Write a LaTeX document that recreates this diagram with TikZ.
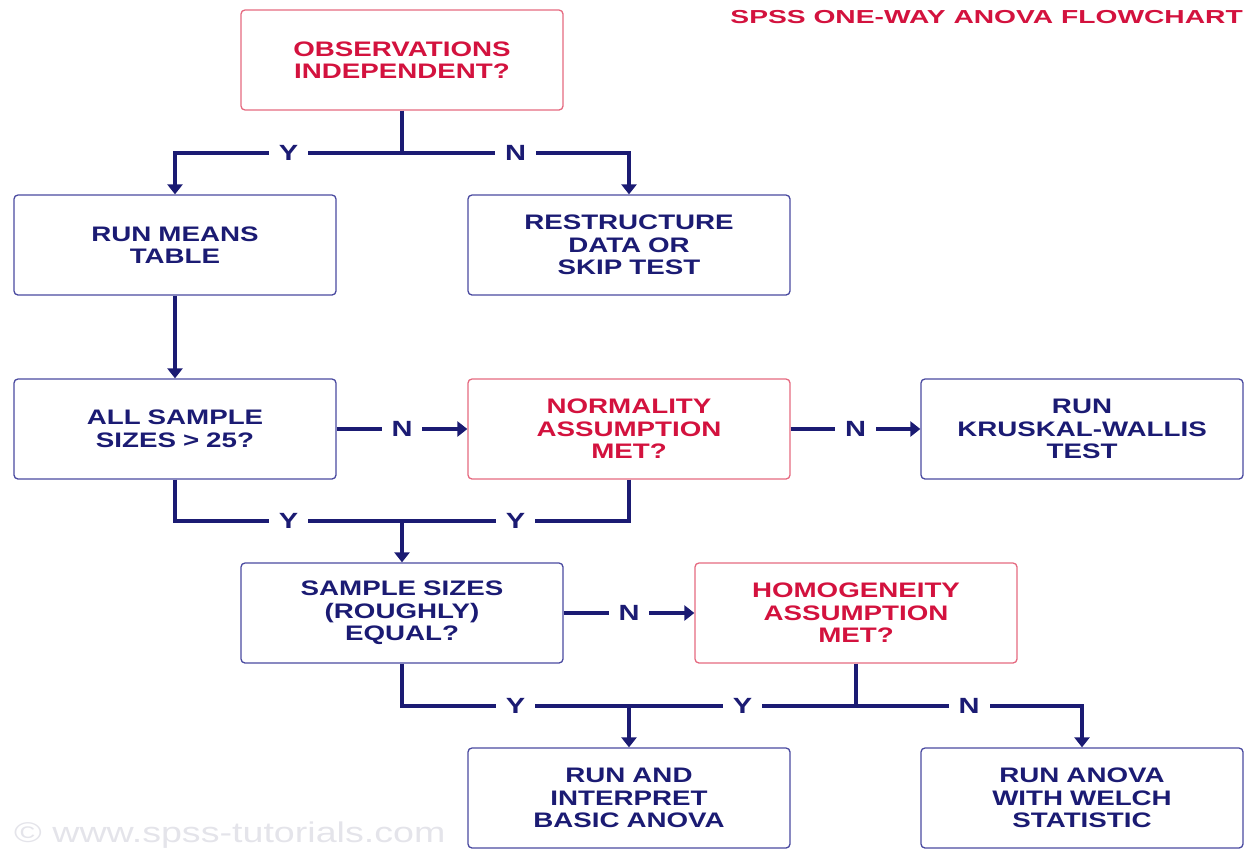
\documentclass[tikz,border=0pt]{standalone}
\usepackage{fontspec}
\setmainfont[FakeStretch=1.32]{Liberation Sans}
\newfontfamily\titlefont[FakeStretch=1.5]{Liberation Sans}
\usetikzlibrary{positioning}
\usetikzlibrary{arrows.meta}
\definecolor{flowblue}{HTML}{1B1B73}
\definecolor{boxblue}{HTML}{4A4AA0}
\definecolor{flowred}{HTML}{D3123E}
\definecolor{boxred}{HTML}{E56A80}
\definecolor{markgray}{HTML}{E4E4EA}

\begin{document}
\begin{tikzpicture}[x=1pt, y=-1pt,
		flowbox/.style={
			draw=boxblue,
			line width=1.3pt,
			rounded corners=4pt,
			minimum width=322pt,
			minimum height=100pt,
			text width=310pt,
			align=center,
			text=flowblue,
			font=\fontsize{21}{22.5}\selectfont\bfseries
		},
		askbox/.style={flowbox, draw=boxred, text=flowred},
		link/.style={draw=flowblue, line width=3.3pt},
		arr/.style={link, -{Triangle[length=10pt, width=15pt]}},
		lbl/.style={fill=white, text=flowblue, inner xsep=10pt, inner ysep=1pt,
			font=\fontsize{22}{22}\selectfont\bfseries}]
		\useasboundingbox (0,0) rectangle (1246,849);
		
		% watermark and title
		\node[anchor=base west, text=markgray, font=\fontsize{28.5}{28.5}\selectfont, inner sep=0] (mark) at (14,842) {\textcopyright\ www.spss-tutorials.com};
		\node[anchor=base east, text=flowred, font=\fontsize{18.8}{18.8}\titlefont\bfseries, inner sep=0] (title) at (1243,23) {SPSS ONE-WAY ANOVA FLOWCHART};
		
		% boxes
		\node[askbox] (obs) at (402,60) {OBSERVATIONS\\INDEPENDENT?};
		\node[flowbox] (means) at (175,245) {RUN MEANS\\TABLE};
		\node[flowbox] (restr) at (629,245) {RESTRUCTURE\\DATA OR\\SKIP TEST};
		\node[flowbox] (all) at (175,429) {ALL SAMPLE\\SIZES > 25?};
		\node[askbox] (norm) at (629,429) {NORMALITY\\ASSUMPTION\\MET?};
		\node[flowbox] (kw) at (1082,429) {RUN\\KRUSKAL-WALLIS\\TEST};
		\node[flowbox] (equal) at (402,613) {SAMPLE SIZES\\(ROUGHLY)\\EQUAL?};
		\node[askbox] (homog) at (856,613) {HOMOGENEITY\\ASSUMPTION\\MET?};
		\node[flowbox] (basic) at (629,798) {RUN AND\\INTERPRET\\BASIC ANOVA};
		\node[flowbox] (welch) at (1082,798) {RUN ANOVA\\WITH WELCH\\STATISTIC};
		
		% connectors
		\coordinate (split1) at (402,153);
		\coordinate (split2) at (402,521);
		\coordinate (split3) at (629,706);
		\coordinate (split4) at (856,706);
		
		\draw[link] (obs.south) -- (split1);
		\draw[arr] (split1) -| node[lbl, pos=0.25]{Y} (means.north);
		\draw[arr] (split1) -| node[lbl, pos=0.25]{N} (restr.north);
		
		\draw[arr] (means.south) -- (all.north);
		\draw[arr] (all.east) -- node[lbl]{N} (norm.west);
		\draw[arr] (norm.east) -- node[lbl]{N} (kw.west);
		
		\draw[link] (all.south) |- node[lbl, pos=0.75]{Y} (split2);
		\draw[link] (norm.south) |- node[lbl, pos=0.75]{Y} (split2);
		\draw[arr] (split2) -- (equal.north);
		
		\draw[arr] (equal.east) -- node[lbl]{N} (homog.west);
		
		\draw[link] (equal.south) |- node[lbl, pos=0.75]{Y} (split3);
		\draw[link] (homog.south) -- (split4);
		\draw[link] (split4) -- node[lbl]{Y} (split3);
		\draw[arr] (split3) -- (basic.north);
		\draw[arr] (split4) -| node[lbl, pos=0.25]{N} (welch.north);
	\end{tikzpicture}
\end{document}
